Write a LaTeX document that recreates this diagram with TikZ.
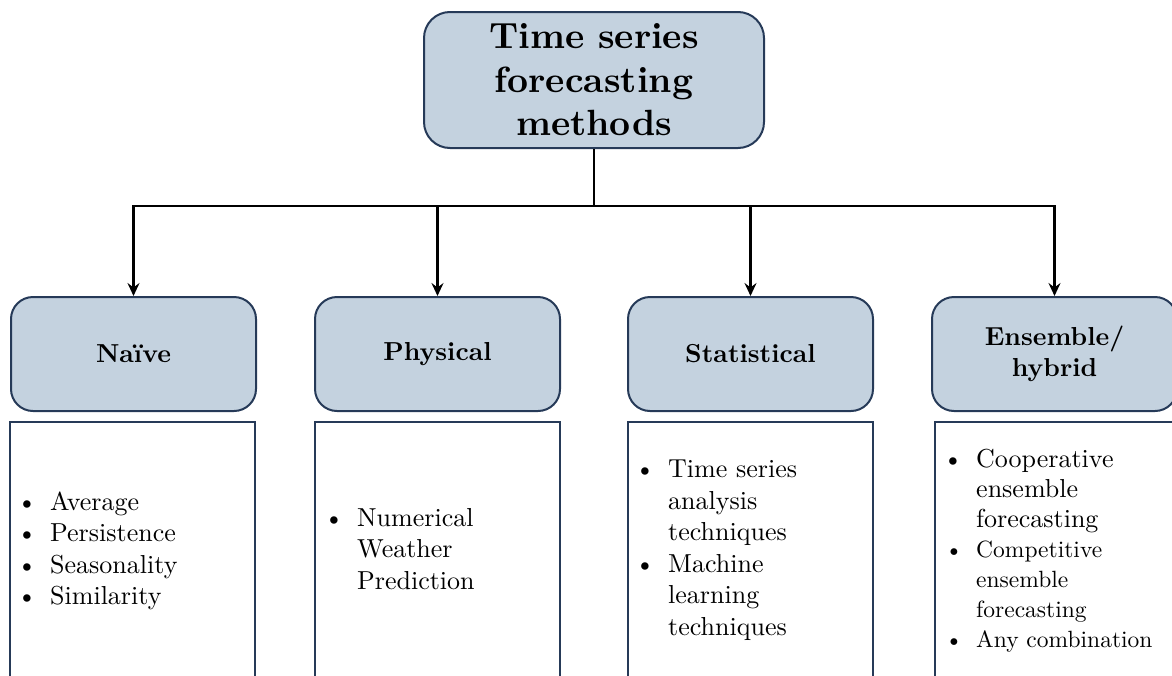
\documentclass[tikz,border=0pt]{standalone}
\usepackage{fontspec}
\setmainfont{lmroman10}[Extension=.otf, UprightFont=*-regular, BoldFont=*-bold]
\usetikzlibrary{arrows.meta}
\definecolor{boxfill}{RGB}{196,210,223}
\definecolor{boxline}{RGB}{38,58,88}
\newcommand\bul{\llap{\textbullet\hspace{13pt}}}
\begin{document}
\begin{tikzpicture}[x=1pt,y=-1pt,
  head/.style={draw=boxline, fill=boxfill, line width=2pt, rounded corners=22pt,
    inner sep=0pt, minimum width=245pt, minimum height=114pt, align=center,
    font=\fontsize{26}{31}\selectfont\bfseries},
  body/.style={draw=boxline, line width=1.8pt, inner sep=0pt,
    minimum width=245pt, minimum height=258pt},
  link/.style={line width=2.1pt, draw=black},
  arr/.style={link, -{Stealth[length=13pt,width=12pt,inset=4.5pt]}},
  items/.style={anchor=west, align=left, inner sep=0pt,
    font=\fontsize{26}{31.5}\selectfont}]
\useasboundingbox (0,0) rectangle (1172,675);

% root of the tree
\node[head, rounded corners=26pt, minimum width=340pt, minimum height=136pt,
  font=\fontsize{36.5}{43.5}\selectfont\bfseries] (root) at (594,80)
  {Time series\\forecasting\\methods};

% method families
\node[head] (naive) at (133.5,354) {Na\"{\i}ve};
\node[head] (phys)  at (437.5,354) {Physical};
\node[head] (stat)  at (750.5,354) {Statistical};
\node[head] (ens)   at (1054.5,354) {Ensemble/\\hybrid};

% description panels
\node[body] (naiveb) at (132.5,551) {};
\node[body] (physb)  at (437.5,551) {};
\node[body] (statb)  at (750.5,551) {};
\node[body] (ensb)   at (1057.5,551) {};

\node[items] (naivet) at (50,551)
  {\bul Average\\ \bul Persistence\\ \bul Seasonality\\ \bul Similarity};
\node[items] (physt) at (357,549)
  {\bul Numerical\\ Weather\\ Prediction};
\node[items] (statt) at (668,550)
  {\bul Time series\\ analysis\\ techniques\\ \bul Machine\\ learning\\ techniques};
\node[items, font=\fontsize{26}{30}\selectfont] (enst) at (976,551)
  {\bul Cooperative\\ ensemble\\ forecasting\\
   {\fontsize{23.5}{29}\selectfont\bul Competitive}\\
   {\fontsize{23.5}{29}\selectfont ensemble}\\
   {\fontsize{23.5}{29}\selectfont forecasting}\\
   {\fontsize{23.5}{29}\selectfont\bul Any combination}};

% connectors
\coordinate (split) at (594,206);
\draw[link] (root.south) -- (split);
\draw[arr] (split) -| (naive.north);
\draw[arr] (split) -| (ens.north);
\draw[arr] (phys.north |- split) -- (phys.north);
\draw[arr] (stat.north |- split) -- (stat.north);
\end{tikzpicture}
\end{document}
